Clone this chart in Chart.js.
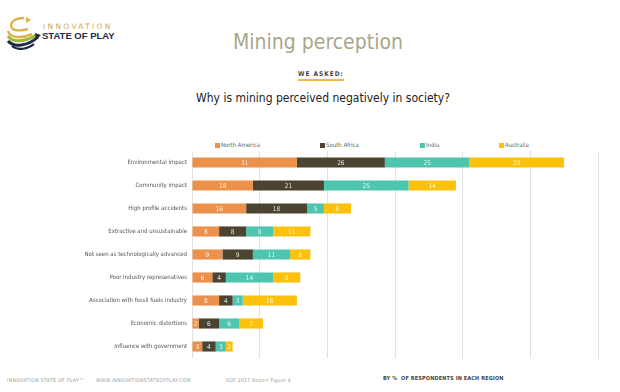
<!DOCTYPE html>
<html>
<head>
<meta charset="utf-8">
<script src="https://cdn.jsdelivr.net/npm/chart.js@4"></script>
<style>
  html, body { margin: 0; padding: 0; background: #fff; }
  body { width: 620px; height: 392px; position: relative; overflow: hidden;
         font-family: "Liberation Sans Narrow", "DejaVu Sans Condensed", sans-serif; }
  .abs { position: absolute; white-space: nowrap; }
  #title { left: 0; width: 636px; top: 30px; text-align: center; font-size: 21px; color: #a9a68b; }
  #asked { left: 298px; top: 70px; font-size: 6.5px; font-weight: bold; letter-spacing: 1px; color: #444;
           border-bottom: 2px solid #f0b84a; padding-bottom: 1px; }
  #question { left: 0; width: 646px; top: 91px; text-align: center; font-size: 12px; color: #222; }
  #chartBox { left: 0; top: 140px; width: 620px; height: 230px; }
  .leg { position: absolute; top: 141px; font-size: 6px; color: #666; }
  .leg i { display: inline-block; width: 5px; height: 5px; margin-right: 1px; vertical-align: -0.5px; }
  .foot { top: 377px; font-size: 5px; color: #999; letter-spacing: 0.4px; }
  #byline { left: 383px; top: 375px; font-size: 5.5px; font-weight: bold; color: #444; letter-spacing: 0.15px; }
  #logoTop { left: 43px; top: 22px; font-size: 7.5px; letter-spacing: 2.3px; color: #d2a84a; font-family: "DejaVu Sans", sans-serif; }
  #logoBot { left: 42px; top: 30px; font-size: 9.5px; font-weight: bold; color: #1f2a44; font-family: "Liberation Sans", sans-serif; }
</style>
</head>
<body>
<svg class="abs" style="left:4px;top:14px" width="40" height="38" viewBox="0 0 40 38">
  <path d="M20 4 C10 4 5 9 8 14 C10 17 18 17 24 15" fill="none" stroke="#e0b24e" stroke-width="2.4"/>
  <path d="M22 3 l5 3 -5 3z" fill="#e0b24e"/>
  <path d="M4 17 C6 24 18 25 28 20" fill="none" stroke="#e0b24e" stroke-width="2.6"/>
  <path d="M4 22 C8 29 22 28 32 21" fill="none" stroke="#9dbb3a" stroke-width="3"/>
  <path d="M4 27 C10 34 24 32 34 23" fill="none" stroke="#1f2a44" stroke-width="3"/>
  <path d="M31 19 l6 2 -5 5z" fill="#1f2a44"/>
  <path d="M8 32 C14 37 24 35 30 30" fill="none" stroke="#1f2a44" stroke-width="2.2"/>
</svg>
<div class="abs" id="logoTop">INNOVATION</div>
<div class="abs" id="logoBot">STATE OF PLAY</div>

<div class="abs" id="title">Mining perception</div>
<div class="abs" id="asked">WE ASKED:</div>
<div class="abs" id="question">Why is mining perceived negatively in society?</div>

<div id="legend"></div>

<div class="abs" id="chartBox"><canvas id="chart"></canvas></div>

<div class="abs foot" style="left:7px">INNOVATION:STATE OF PLAY™</div>
<div class="abs foot" style="left:96px">WWW.INNOVATIONSTATEOFPLAY.COM</div>
<div class="abs foot" style="left:226px;letter-spacing:0.3px">SOP 2017 Report Figure 4</div>
<div class="abs" id="byline">BY %&nbsp; OF RESPONDENTS IN EACH REGION</div>

<script>
"use strict";
const categories = [
    'Environmental impact',
    'Community impact',
    'High profile accidents',
    'Extractive and unsustainable',
    'Not seen as technologically advanced',
    'Poor industry represenatives',
    'Association with fossil fuels industry',
    'Economic distortions',
    'Influence with government'
];
const regions = ['North America', 'South Africa', 'India', 'Australia'];
const northAmerica = [31, 18, 16, 8, 9, 6, 8, 2, 3];
const southAfrica = [26, 21, 18, 8, 9, 4, 4, 6, 4];
const india = [25, 25, 5, 8, 11, 14, 3, 6, 3];
const australia = [28, 14, 8, 11, 6, 8, 16, 7, 2];
const colors = ['#ec914b', '#4b4431', '#4dc5af', '#fbc10b'];
const legendX = [215, 320, 420, 499];

document.addEventListener('DOMContentLoaded', () => {
    const legendBox = document.getElementById('legend');
    regions.forEach((name, i) => {
        const item = document.createElement('div');
        item.className = 'leg';
        item.style.left = legendX[i] + 'px';
        item.innerHTML = '<i style="background:' + colors[i] + '"></i>' + name;
        legendBox.appendChild(item);
    });

    const valueLabels = {
        id: 'valueLabels',
        afterDatasetsDraw(chart) {
            const ctx = chart.ctx;
            ctx.save();
            ctx.font = '6.5px "Liberation Sans Narrow", "DejaVu Sans Condensed", sans-serif';
            ctx.fillStyle = 'rgba(255,255,255,0.85)';
            ctx.textAlign = 'center';
            ctx.textBaseline = 'middle';
            chart.data.datasets.forEach((ds, di) => {
                const meta = chart.getDatasetMeta(di);
                meta.data.forEach((bar, i) => {
                    ctx.fillText(String(ds.data[i]), (bar.x + bar.base) / 2, bar.y + 0.5);
                });
            });
            ctx.restore();
        }
    };

    const series = [northAmerica, southAfrica, india, australia];
    const ctx = document.getElementById('chart').getContext('2d');
    new Chart(ctx, {
        type: 'bar',
        data: {
            labels: categories,
            datasets: series.map((data, i) => ({
                label: regions[i],
                data,
                backgroundColor: colors[i],
                borderWidth: 0,
                categoryPercentage: 1,
                barPercentage: 0.44
            }))
        },
        options: {
            indexAxis: 'y',
            responsive: true,
            maintainAspectRatio: false,
            animation: false,
            layout: { padding: { left: 0, right: 22, top: 11, bottom: 12 } },
            plugins: { legend: { display: false }, tooltip: { enabled: false } },
            scales: {
                x: {
                    stacked: true,
                    min: 0,
                    max: 120,
                    ticks: { display: false, stepSize: 20 },
                    grid: { color: '#e2e2e2', drawTicks: false },
                    border: { display: false },
                    afterFit(scale) { scale.height = 0; }
                },
                y: {
                    stacked: true,
                    grid: { display: false, drawTicks: false },
                    border: { display: false },
                    ticks: {
                        color: '#555',
                        padding: 5,
                        font: { size: 6, family: '"Liberation Sans Narrow", "DejaVu Sans Condensed", sans-serif' }
                    },
                    afterFit(scale) { scale.width = 192; }
                }
            }
        },
        plugins: [valueLabels]
    });
});
</script>
</body>
</html>
